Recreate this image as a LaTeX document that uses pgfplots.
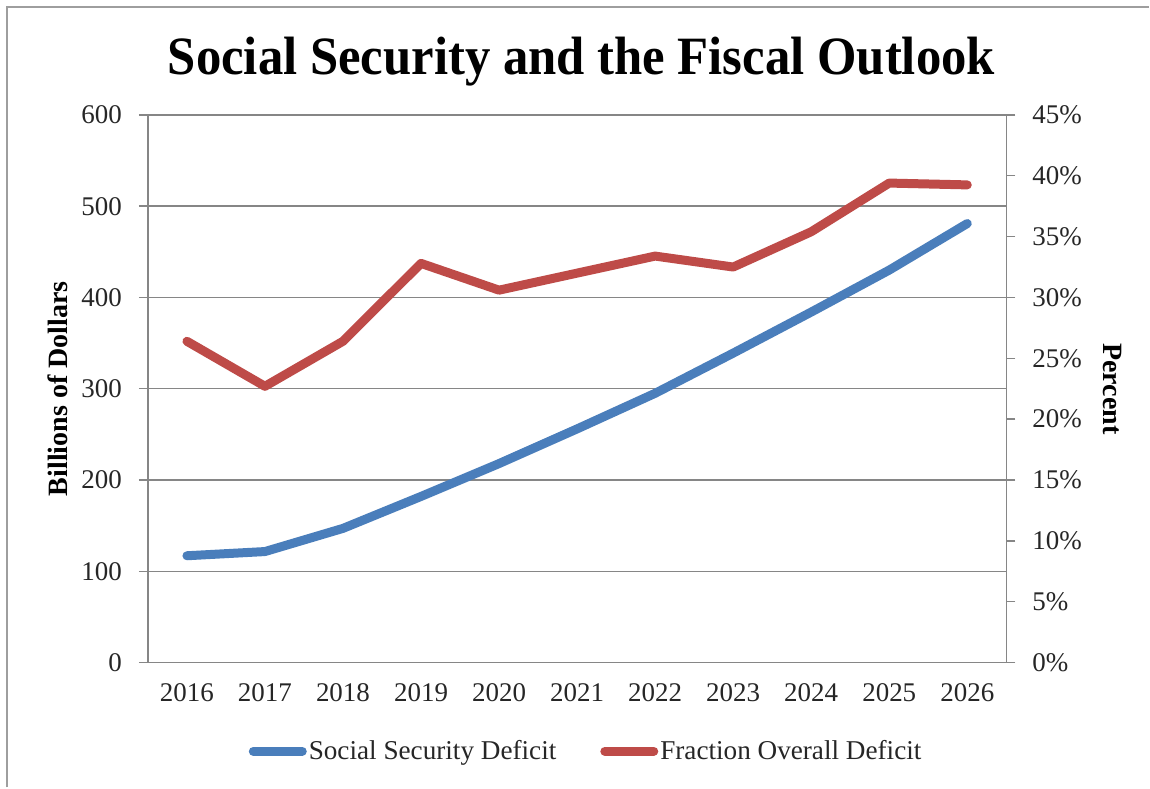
\documentclass[border=0pt]{standalone}
\usepackage{fontspec}
\setmainfont{Liberation Serif}
\usepackage{pgfplots}
\pgfplotsset{compat=1.18}

\definecolor{ssblue}{HTML}{4A7EBB}
\definecolor{fracred}{HTML}{BE4B48}
\definecolor{axgray}{HTML}{868686}
\definecolor{txt}{HTML}{262626}

% years 2016..2026 plotted at 0..10
\pgfplotstableread{
x  deficit  fraction
0  117      0.264
1  121.6    0.227
2  147      0.264
3  182      0.328
4  218      0.306
5  256      0.320
6  295      0.334
7  339      0.325
8  384      0.354
9  430      0.394
10 481      0.3925
}\ssdata

\pgfplotsset{
  base/.style={
    scale only axis,
    width=429.5pt, height=274pt,
    xmin=-0.5, xmax=10.5,
    tick align=outside,
    major tick length=4.5pt,
    tick style={axgray, line width=0.7pt},
    axis line style={axgray, line width=0.7pt},
    ticklabel style={font=\fontsize{13.5}{15}\selectfont, text=txt},
    /pgf/number format/assume math mode=true,
  },
}

\begin{document}
\begin{tikzpicture}
% frame of the chart
\path (-74pt,-62.5pt) rectangle (501pt,331.5pt);
\draw[axgray!80, line width=0.8pt] (-70.5pt,-62.5pt) -- (-70.5pt,328pt) -- (501pt,328pt);

\begin{axis}[
  base,
  clip=false,
  axis x line*=bottom, axis y line*=left,
  ymin=0, ymax=600,
  ytick={0,100,...,600},
  xtick={0,...,10},
  xticklabels={2016,2017,2018,2019,2020,2021,2022,2023,2024,2025,2026},
  xtick style={draw=none},
  minor xtick={-0.5,0.5,...,10.5},
  minor tick length=4.5pt,
  minor tick style={axgray, line width=0.7pt},
  ymajorgrids,
  grid style={axgray, line width=0.7pt},
  xticklabel style={yshift=-2.5pt},
  yticklabel style={xshift=-5pt},
  ylabel={\bfseries Billions of Dollars},
  ylabel style={at={(rel axis cs:-0.1048,0.5)}, anchor=center, font=\fontsize{14}{16}\selectfont, text=black},
  legend style={at={(rel axis cs:0.5105,-0.162)}, anchor=center, draw=none, legend columns=2,
    font=\fontsize{13.6}{15}\selectfont, text=txt,
    nodes={inner sep=1pt},
    /tikz/every even column/.append style={column sep=21pt}},
  legend image code/.code={\draw[#1, line cap=round] (2.25pt,0pt) -- (26.75pt,0pt);},
]
\addplot[ssblue, line width=4.5pt, line cap=round, line join=round] table[x=x, y=deficit] {\ssdata};
\addlegendentry{Social Security Deficit}
\addlegendimage{fracred, line width=4.5pt}
\addlegendentry{Fraction Overall Deficit}
\node[anchor=base, font=\fontsize{27}{30}\selectfont\bfseries, text=black]
  at (rel axis cs:0.505,1.073) {\scalebox{0.94}[1]{Social Security and the Fiscal Outlook}};
\end{axis}

\begin{axis}[
  base,
  axis x line=none,
  axis y line*=right,
  ymin=0, ymax=0.45,
  ytick={0,0.05,0.10,0.15,0.20,0.25,0.30,0.35,0.40,0.45},
  yticklabels={0\%,5\%,10\%,15\%,20\%,25\%,30\%,35\%,40\%,45\%},
  yticklabel style={xshift=5pt},
  ylabel={\bfseries Percent},
  ylabel style={at={(rel axis cs:1.1234,0.5)}, anchor=center, rotate=180, font=\fontsize{14}{16}\selectfont, text=black},
]
\addplot[fracred, line width=4.5pt, line cap=round, line join=round] table[x=x, y=fraction] {\ssdata};
\end{axis}
\end{tikzpicture}
\end{document}
